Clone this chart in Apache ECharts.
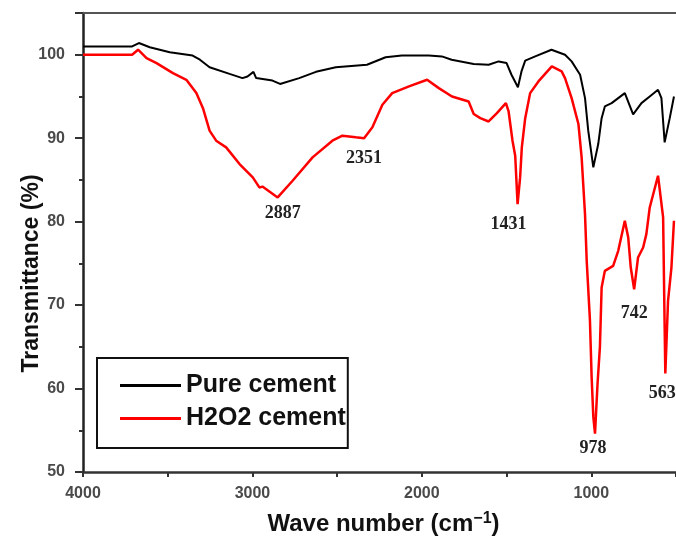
<!DOCTYPE html>
<html>
<head>
<meta charset="utf-8">
<script src="https://cdn.jsdelivr.net/npm/echarts@6/dist/echarts.min.js"></script>
<style>
  html, body { margin: 0; padding: 0; background: #fff; }
  #chart { width: 676px; height: 537px; }
</style>
</head>
<body>
<div id="chart"></div>
<script>
// FTIR spectra, wave number (cm-1) vs transmittance (%)
const pureWn = [4000, 3710, 3670, 3606, 3488, 3353, 3310, 3253, 3135, 3059, 3029, 2994, 2978, 2882, 2837, 2724, 2625, 2508, 2324, 2214, 2118, 1959, 1882, 1824, 1694, 1606, 1547, 1500, 1471, 1433, 1412, 1390, 1331, 1235, 1155, 1116, 1066, 1037, 1018, 988, 959, 939, 920, 880, 802, 753, 704, 655, 606, 586, 567, 537, 512]
const pureT = [101.0, 101.0, 101.4, 100.9, 100.3, 99.9, 99.4, 98.5, 97.7, 97.2, 97.4, 97.95, 97.2, 96.9, 96.5, 97.2, 97.95, 98.5, 98.8, 99.7, 99.9, 99.9, 99.8, 99.4, 98.9, 98.8, 99.2, 99.0, 97.6, 96.1, 98.0, 99.3, 99.8, 100.6, 100.0, 99.2, 97.6, 94.8, 90.9, 86.5, 89.3, 92.4, 93.8, 94.2, 95.4, 92.85, 94.2, 95.0, 95.8, 94.8, 89.5, 92.4, 95.0]

const h2o2Wn = [4000, 3710, 3675, 3625, 3566, 3469, 3390, 3331, 3292, 3253, 3214, 3155, 3076, 2998, 2959, 2941, 2851, 2763, 2645, 2528, 2469, 2390, 2341, 2292, 2233, 2175, 2076, 1969, 1900, 1822, 1724, 1694, 1655, 1606, 1557, 1504, 1488, 1465, 1449, 1435, 1420, 1410, 1390, 1361, 1312, 1233, 1175, 1155, 1116, 1076, 1057, 1037, 1027, 1008, 998, 988, 978, 963, 949, 939, 920, 871, 841, 802, 782, 767, 747, 724, 694, 675, 655, 606, 576, 567, 563, 547, 527, 512]
const h2o2T = [100.0, 100.0, 100.6, 99.6, 99.0, 97.8, 97.0, 95.4, 93.6, 90.9, 89.7, 88.9, 86.9, 85.3, 84.1, 84.2, 82.9, 84.9, 87.7, 89.7, 90.3, 90.1, 90.0, 91.3, 94.0, 95.4, 96.2, 97.0, 96.0, 95.0, 94.4, 92.9, 92.4, 92.0, 93.0, 94.2, 93.2, 89.7, 87.9, 82.1, 85.3, 88.9, 92.4, 95.4, 96.8, 98.6, 98.0, 97.2, 94.8, 91.7, 87.7, 80.9, 75.3, 68.2, 61.4, 56.6, 54.6, 60.6, 65.0, 72.1, 74.1, 74.7, 76.5, 80.1, 78.1, 74.5, 71.9, 75.7, 76.9, 78.5, 81.7, 85.5, 80.5, 67.4, 61.8, 70.5, 74.5, 80.1]

// annotated peaks on the H2O2 curve
const peakLabels = ['2887', '2351', '1431', '978', '742', '563']
const peakWn = [2851, 2341, 1435, 978, 747, 563]
const peakT = [82.9, 90.0, 82.1, 54.6, 71.9, 61.8]

const seriesNames = ['Pure cement', 'H2O2 cement']

// label nudges (px) so the numbers sit under the dips
const peakOffsets = [[5, 16], [0, 20], [-9, 20], [-2, 15], [0, 24], [-3, 20]]

const toPairs = (xs, ys) => xs.map((x, i) => [x, ys[i]])

const sans = 'Liberation Sans, Arial, sans-serif'
const serif = 'Liberation Serif, Times New Roman, serif'

const chart = echarts.init(document.getElementById('chart'))

const option = {
  animation: false,
  backgroundColor: '#fff',
  grid: {
    left: 83,
    right: 0,
    top: 13,
    bottom: 65,
    outerBoundsMode: 'none'
  },
  legend: {
    orient: 'vertical',
    left: 97,
    top: 358,
    data: seriesNames,
    icon: 'rect',
    borderColor: '#111',
    borderWidth: 2,
    padding: [15, 2, 17, 23],
    itemGap: 8,
    itemWidth: 61,
    itemHeight: 3,
    textStyle: {
      fontFamily: sans,
      fontWeight: 'bold',
      fontSize: 25,
      color: '#111'
    }
  },
  xAxis: [
    {
      type: 'value',
      inverse: true,
      min: 500,
      max: 4000,
      interval: 500,
      name: 'Wave number (cm{sup|−1})',
      nameLocation: 'middle',
      nameGap: 39,
      nameTextStyle: {
        fontFamily: sans,
        fontWeight: 'bold',
        fontSize: 24,
        color: '#111',
        padding: [0, 0, 0, 8],
        rich: {
          sup: {
            fontFamily: sans,
            fontWeight: 'bold',
            fontSize: 16,
            color: '#111',
            verticalAlign: 'top',
            padding: [0, 0, 10, 0]
          }
        }
      },
      axisLine: { lineStyle: { color: '#333', width: 2.5 } },
      axisTick: { inside: false, length: 5, lineStyle: { color: '#333', width: 2 } },
      splitLine: { show: false },
      axisLabel: {
        margin: 14,
        fontFamily: sans,
        fontWeight: 'bold',
        fontSize: 16,
        color: '#4a4a4a',
        formatter: v => (v % 1000 === 0 ? String(v) : '')
      }
    },
    {
      type: 'value',
      position: 'top',
      inverse: true,
      min: 500,
      max: 4000,
      axisLine: { show: true, lineStyle: { color: '#555', width: 2 } },
      axisTick: { show: false },
      axisLabel: { show: false },
      splitLine: { show: false }
    }
  ],
  yAxis: {
    type: 'value',
    min: 50,
    max: 105,
    interval: 10,
    name: 'Transmittance (%)',
    nameLocation: 'middle',
    nameMoveOverlap: false,
    nameGap: 40,
    nameTextStyle: {
      fontFamily: sans,
      fontWeight: 'bold',
      fontSize: 23,
      color: '#111',
      padding: [0, 62, 0, 0]
    },
    axisLine: { lineStyle: { color: '#222', width: 2.5 } },
    axisTick: { inside: false, length: 8, lineStyle: { color: '#333', width: 2 } },
    minorTick: { show: true, splitNumber: 2, length: 4, lineStyle: { color: '#333', width: 2 } },
    splitLine: { show: false },
    axisLabel: {
      margin: 18,
      showMaxLabel: false,
      fontFamily: sans,
      fontWeight: 'bold',
      fontSize: 16,
      color: '#4a4a4a'
    }
  },
  series: [
    {
      name: seriesNames[0],
      type: 'line',
      data: toPairs(pureWn, pureT),
      symbol: 'none',
      color: '#000',
      lineStyle: { color: '#000', width: 2 },
      z: 3
    },
    {
      name: seriesNames[1],
      type: 'line',
      data: toPairs(h2o2Wn, h2o2T),
      symbol: 'none',
      color: '#ff0000',
      lineStyle: { color: '#ff0000', width: 2.5 },
      z: 2,
      markPoint: {
        symbol: 'circle',
        symbolSize: 0,
        silent: true,
        label: {
          show: true,
          position: 'inside',
          formatter: p => p.name,
          fontFamily: serif,
          fontWeight: 'bold',
          fontSize: 18,
          color: '#222'
        },
        data: peakLabels.map((name, i) => ({
          name: name,
          coord: [peakWn[i], peakT[i]],
          label: { offset: peakOffsets[i] }
        }))
      }
    }
  ]
}

chart.setOption(option)
</script>
</body>
</html>
